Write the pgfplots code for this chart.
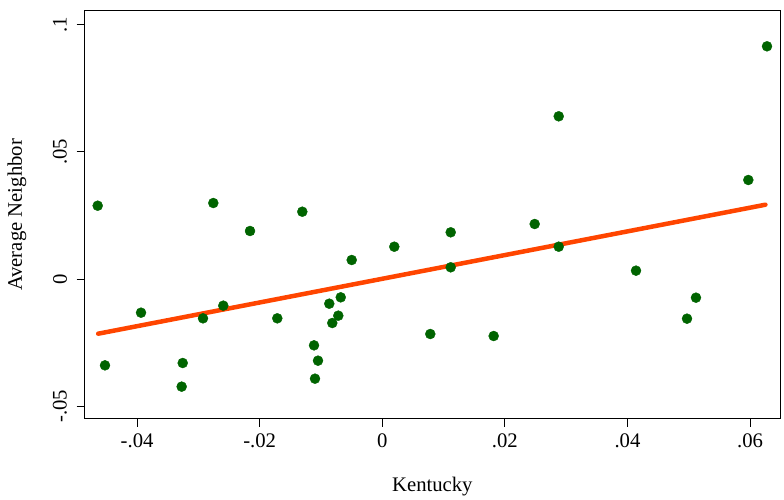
\documentclass[border=0pt]{standalone}
\usepackage{fontspec}
\setmainfont{Liberation Serif}
\usepackage{pgfplots}
\pgfplotsset{compat=1.18}
\definecolor{dotgreen}{RGB}{0,100,0}
\definecolor{fitorange}{RGB}{255,69,0}

\begin{document}
\begin{tikzpicture}
% page = 784 x 500, axis box lower left at origin
\useasboundingbox (-84.7pt,-81pt) rectangle (699.3pt,419pt);
\begin{axis}[
  scale only axis,
  width=695.3pt, height=408pt,
  xmin=-0.04855, xmax=0.06488,
  ymin=-0.05503, ymax=0.10535,
  scaled x ticks=false, scaled y ticks=false,
  xtick={-0.04,-0.02,0,0.02,0.04,0.06},
  xticklabels={-.04,-.02,0,.02,.04,.06},
  ytick={-0.05,0,0.05,0.1},
  yticklabels={-.05,0,.05,.1},
  tick label style={font=\fontsize{20.7}{24}\selectfont},
  label style={font=\fontsize{20.7}{24}\selectfont},
  xticklabel style={yshift=-3pt},
  yticklabel style={rotate=90, anchor=south, inner ysep=9.5pt},
  tick align=outside,
  major tick length=8pt,
  tick style={line width=1pt, black},
  axis line style={line width=1pt},
  xtick pos=bottom, ytick pos=left,
  xlabel={Kentucky},
  ylabel={Average Neighbor},
  xlabel style={at={(axis description cs:0.5,-0.1667)}, anchor=center, inner sep=0pt},
  ylabel style={at={(axis description cs:-0.0974,0.5)}, anchor=center, inner sep=0pt},
  clip=false,
]
\addplot[only marks, mark=*, mark size=5pt, draw=dotgreen, fill=dotgreen] coordinates {
(-0.04643, 0.02881)
(-0.02757, 0.02987)
(-0.02158, 0.01887)
(-0.01305, 0.02645)
(0.00196, 0.01270)
(0.06276, 0.09147)
(0.02878, 0.06395)
(0.05971, 0.03892)
(0.02486, 0.02162)
(0.01116, 0.01835)
(0.02878, 0.01270)
(-0.00499, 0.00747)
(-0.03936, -0.01324)
(-0.02594, -0.01048)
(-0.02925, -0.01546)
(-0.01713, -0.01546)
(-0.00865, -0.00970)
(-0.00678, -0.00721)
(-0.00718, -0.01441)
(-0.00816, -0.01730)
(-0.01114, -0.02608)
(-0.01049, -0.03210)
(-0.01098, -0.03918)
(-0.04524, -0.03394)
(-0.03256, -0.03302)
(-0.03273, -0.04231)
(0.01116, 0.00460)
(0.04139, 0.00328)
(0.05117, -0.00734)
(0.04971, -0.01559)
(0.00783, -0.02162)
(0.01817, -0.02241)
};
\addplot[fitorange, line width=4.5pt, line cap=round, no marks] coordinates {
(-0.04635, -0.0215)
(0.06250, 0.02920)
};
\end{axis}
\end{tikzpicture}
\end{document}
